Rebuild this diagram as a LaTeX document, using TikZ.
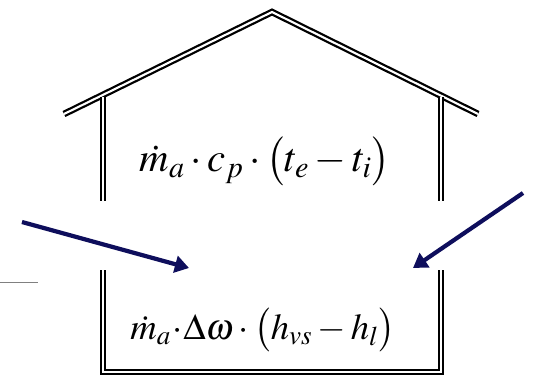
\documentclass[tikz,border=0pt]{standalone}
\usepackage{mathptmx}
\usetikzlibrary{arrows.meta, positioning, calc}
\definecolor{arrownavy}{RGB}{14,14,92}

\begin{document}
\begin{tikzpicture}[
    x=0.025cm, y=-0.025cm,
    wall/.style={draw, double, double distance=1.5pt, line width=1.6pt},
    flow/.style={-{Triangle[width=12pt, length=10pt]}, line width=3pt, arrownavy},
    formula/.style={inner sep=0pt, font=\fontsize{29}{34}\selectfont}
]
    \useasboundingbox (0,0) rectangle (551,383);

    % Roof
    \coordinate (eaveL) at (64,114);
    \coordinate (apex) at (272,12);
    \coordinate (eaveR) at (478,114);
    \draw[wall] (eaveL) -- (apex) -- (eaveR);

    % Upper walls
    \coordinate (wallLtop) at (103,97);
    \coordinate (wallRtop) at (441,97);
    \draw[wall] (wallLtop) -- (103,201);
    \draw[wall] (wallRtop) -- (441,201);

    % Lower walls and floor
    \draw[wall] (103,270) |- (441,372) -- (441,270);

    % Formulas
    \node[formula] (sensible) at (265,161) {$\dot{m}_a\cdot c_p\cdot\bigl(t_e-t_i\bigr)$};
    \node[formula, font=\fontsize{26}{31}\selectfont] (latent) at (263,330) {$\dot{m}_a\!\cdot\!\Delta\omega\cdot\bigl(h_{vs}-h_l\bigr)$};

    % Flows
    \coordinate (inL) at (22,222);
    \coordinate (tipL) at (189,268);
    \coordinate (inR) at (523,193);
    \coordinate (tipR) at (413,268);
    \draw[flow] (inL) -- (tipL);
    \draw[flow] (inR) -- (tipR);

    % Stray mark
    \coordinate (markA) at (0,282);
    \coordinate (markB) at (38,282);
    \draw[gray, line width=0.6pt] (markA) -- (markB);

\end{tikzpicture}
\end{document}
